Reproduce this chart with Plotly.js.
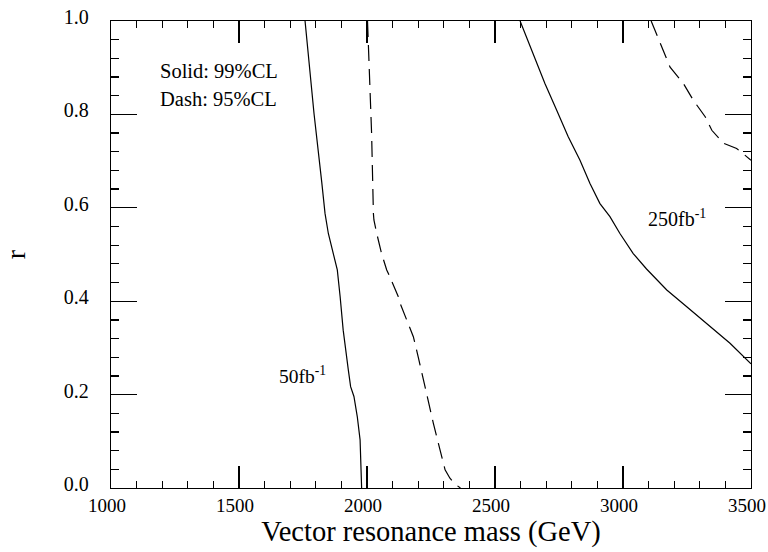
<!DOCTYPE html>
<html>
<head>
<meta charset="utf-8">
<script src="https://cdn.plot.ly/plotly-3.0.1.min.js"></script>
<style>html,body{margin:0;padding:0;background:#fff;}#chart{width:768px;height:552px;}</style>
</head>
<body>
<div id="chart"></div>
<script>
// 50 fb^-1, 99% CL (solid)
const solid50_mass = [1758, 1784, 1793, 1823, 1836, 1849, 1868, 1884, 1895, 1907, 1927, 1936, 1949, 1962, 1973, 1977, 1979];
const solid50_r    = [1.0, 0.844, 0.802, 0.656, 0.588, 0.545, 0.502, 0.467, 0.41, 0.338, 0.253, 0.217, 0.196, 0.153, 0.103, 0.039, 0.0];
// 50 fb^-1, 95% CL (dash)
const dash50_mass = [2002, 2008, 2018, 2025, 2027, 2038, 2057, 2077, 2083, 2122, 2129, 2155, 2181, 2200, 2220, 2239, 2259, 2285, 2305, 2324, 2345, 2365];
const dash50_r    = [1.0, 0.901, 0.759, 0.588, 0.574, 0.545, 0.502, 0.467, 0.46, 0.41, 0.396, 0.36, 0.324, 0.281, 0.232, 0.182, 0.139, 0.082, 0.039, 0.021, 0.008, 0.0];
// 250 fb^-1, 99% CL (solid)
const solid250_mass = [2598, 2650, 2695, 2741, 2786, 2832, 2871, 2910, 2949, 2988, 3040, 3092, 3171, 3249, 3340, 3418, 3500];
const solid250_r    = [1.0, 0.93, 0.866, 0.809, 0.752, 0.702, 0.652, 0.609, 0.581, 0.545, 0.502, 0.469, 0.424, 0.388, 0.346, 0.31, 0.266];
// 250 fb^-1, 95% CL (dash)
const dash250_mass = [3110, 3157, 3184, 3236, 3275, 3321, 3347, 3393, 3444, 3500];
const dash250_r    = [1.0, 0.937, 0.901, 0.866, 0.83, 0.795, 0.766, 0.738, 0.727, 0.702];

const xTickVals = [1000, 1500, 2000, 2500, 3000, 3500];
const yTickVals = [0.0, 0.2, 0.4, 0.6, 0.8, 1.0];
const yTickText = ['0.0', '0.2', '0.4', '0.6', '0.8', '1.0'];

const serif = 'Liberation Serif';
const solidLine = {color: '#000', width: 1.2, dash: 'solid'};
const dashLine = {color: '#000', width: 1.2, dash: '16px,8px'};

const traces = [
  {x: solid50_mass, y: solid50_r, mode: 'lines', line: solidLine, hoverinfo: 'skip'},
  {x: dash50_mass, y: dash50_r, mode: 'lines', line: dashLine, hoverinfo: 'skip'},
  {x: solid250_mass, y: solid250_r, mode: 'lines', line: solidLine, hoverinfo: 'skip'},
  {x: dash250_mass, y: dash250_r, mode: 'lines', line: dashLine, hoverinfo: 'skip'}
];

const layout = {
  width: 768, height: 552,
  margin: {l: 111, r: 17, t: 21, b: 64},
  paper_bgcolor: '#fff', plot_bgcolor: '#fff',
  showlegend: false,
  font: {family: serif, color: '#000'},
  xaxis: {
    range: [1000, 3500], tickvals: xTickVals, ticktext: xTickVals.map(String),
    ticks: 'inside', ticklen: 22, tickwidth: 1.3, tickcolor: '#000',
    minor: {dtick: 100, tick0: 1000, ticks: 'inside', ticklen: 7, tickwidth: 1.3, tickcolor: '#000'},
    showline: true, linecolor: '#000', linewidth: 1.3, mirror: 'allticks',
    showgrid: false, zeroline: false, ticklabeloverflow: 'allow', automargin: false,
    ticklabelshift: -4,
    tickfont: {family: serif, size: 19, color: '#000'},
    title: {text: 'Vector resonance mass (GeV)', font: {family: serif, size: 28.5, color: '#000'}, standoff: 2}
  },
  yaxis: {
    range: [0, 1], tickvals: yTickVals, ticktext: yTickText,
    ticks: 'inside', ticklen: 26, tickwidth: 1.3, tickcolor: '#000',
    minor: {dtick: 0.04, tick0: 0, ticks: 'inside', ticklen: 8, tickwidth: 1.3, tickcolor: '#000'},
    showline: true, linecolor: '#000', linewidth: 1.3, mirror: 'allticks',
    showgrid: false, zeroline: false, ticklabeloverflow: 'allow', automargin: false,
    ticklabelstandoff: 17, ticklabelshift: -4,
    tickfont: {family: serif, size: 20, color: '#000'},
    title: {text: 'r', font: {family: serif, size: 28, color: '#000'}, standoff: 50}
  },
  annotations: [
    {x: 1184, y: 0.893, xref: 'x', yref: 'y', text: 'Solid: 99%CL', showarrow: false, xanchor: 'left', yanchor: 'middle', font: {family: serif, size: 20.5, color: '#000'}},
    {x: 1184, y: 0.833, xref: 'x', yref: 'y', text: 'Dash: 95%CL', showarrow: false, xanchor: 'left', yanchor: 'middle', font: {family: serif, size: 20.5, color: '#000'}},
    {x: 1648, y: 0.241, xref: 'x', yref: 'y', text: '50fb<sup>-1</sup>', showarrow: false, xanchor: 'left', yanchor: 'middle', font: {family: serif, size: 19.5, color: '#000'}},
    {x: 3090, y: 0.578, xref: 'x', yref: 'y', text: '250fb<sup>-1</sup>', showarrow: false, xanchor: 'left', yanchor: 'middle', font: {family: serif, size: 20, color: '#000'}}
  ]
};

Plotly.newPlot('chart', traces, layout, {staticPlot: true, displayModeBar: false});
</script>
</body>
</html>
